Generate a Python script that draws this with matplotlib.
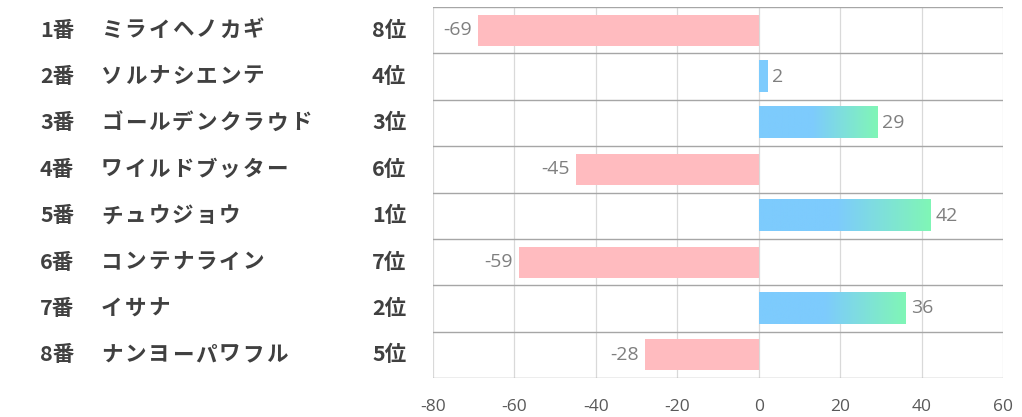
import numpy as np
import matplotlib
matplotlib.use('Agg')
import matplotlib.pyplot as plt
from matplotlib.colors import LinearSegmentedColormap
from matplotlib.transforms import blended_transform_factory

plt.rcParams['font.family'] = ['Noto Sans CJK JP', 'DejaVu Sans']
plt.rcParams['axes.unicode_minus'] = False

numbers = ['1番', '2番', '3番', '4番', '5番', '6番', '7番', '8番']
names = ['ミライヘノカギ', 'ソルナシエンテ', 'ゴールデンクラウド', 'ワイルドブッター',
         'チュウジョウ', 'コンテナライン', 'イサナ', 'ナンヨーパワフル']
ranks = ['8位', '4位', '3位', '6位', '1位', '7位', '2位', '5位']
values = [-69, 2, 29, -45, 42, -59, 36, -28]

pink = '#FFBBBF'
blue = '#7DCBFD'
green = '#80F6B6'
grad = LinearSegmentedColormap.from_list('g', [(0, blue), (0.45, blue), (1, green)])

fig = plt.figure(figsize=(10.22, 4.17), dpi=100)
ax = fig.add_axes([433/1022, 1 - 378/417, 570/1022, 371/417])

bar_h = 0.67
for i, v in enumerate(values):
    if v < 0:
        ax.barh(i, v, height=bar_h, color=pink, zorder=3)
        ax.annotate(str(v), (v, i), xytext=(-4, 0), textcoords='offset points',
                    ha='right', va='center', fontsize=14, color='#7F7F7F',
                    family=['Open Sans', 'DejaVu Sans'])
    else:
        g = np.linspace(0, 1, 256).reshape(1, -1)
        if v < 5:
            g = np.zeros((1, 2))
        ax.imshow(g, cmap=grad, vmin=0, vmax=1, aspect='auto', zorder=3,
                  extent=[0, v, i + bar_h/2, i - bar_h/2], interpolation='bilinear')
        ax.annotate(str(v), (v, i), xytext=(4, 0), textcoords='offset points',
                    ha='left', va='center', fontsize=14, color='#7F7F7F',
                    family=['Open Sans', 'DejaVu Sans'])

ax.set_xlim(-80, 60)
ax.set_ylim(7.5, -0.5)
ax.set_xticks(range(-80, 61, 20))
ax.set_yticks([])
for x in range(-80, 61, 20):
    ax.axvline(x, color='#D9D9D9', lw=0.9, zorder=1)
for k in range(9):
    ax.axhline(k - 0.5, color='#A6A6A6', lw=1.0, zorder=2)
for s in ax.spines.values():
    s.set_visible(False)
ax.tick_params(axis='x', length=0, pad=15, labelsize=12.5, labelcolor='#595959')
for lb in ax.get_xticklabels():
    lb.set_family(['Open Sans', 'DejaVu Sans'])

tr = blended_transform_factory(fig.transFigure, ax.transData)
kw = dict(transform=tr, va='center', fontsize=15.5, fontweight='bold', color='#404040')
step = 23.6  # px per kana in the name column
for i in range(len(names)):
    ax.text(40/1022, i, numbers[i], ha='left', **kw)
    for j, ch in enumerate(names[i]):
        ax.text((100 + step * (j + 0.5)) / 1022, i, ch, ha='center', **kw)
    ax.text(372/1022, i, ranks[i], ha='left', **kw)

fig.savefig('out.png', dpi=100)
